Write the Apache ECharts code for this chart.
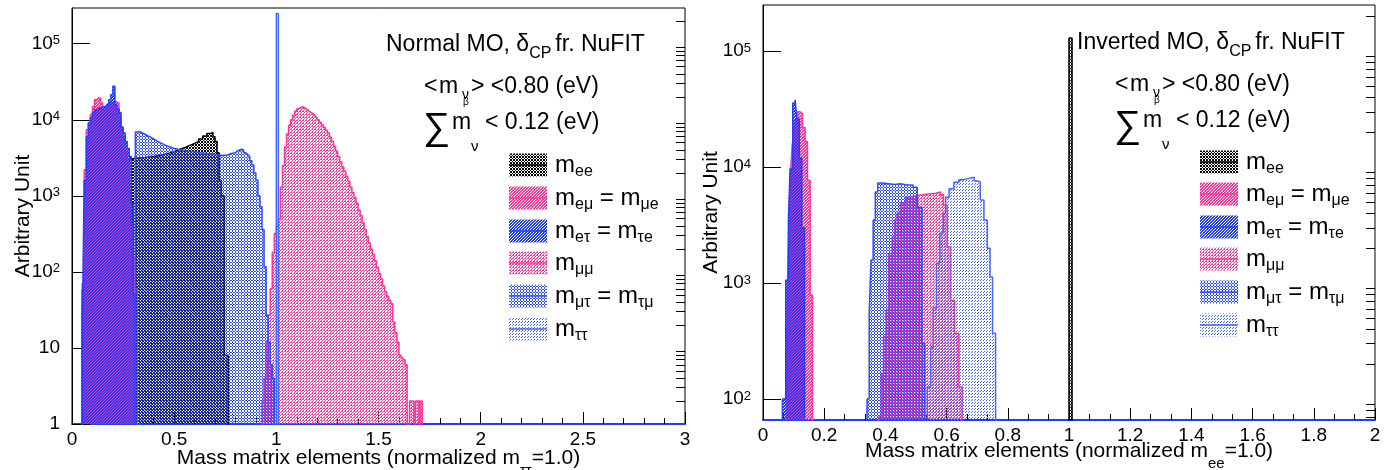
<!DOCTYPE html>
<html><head><meta charset="utf-8">
<script src="https://cdn.jsdelivr.net/npm/echarts@6/dist/echarts.min.js"></script>
<style>html,body{margin:0;padding:0;background:#fff}#c{width:1389px;height:470px}</style>
</head><body><div id="c"></div>
<script>
// ===================== DATA =====================
// Each histogram: [bin left edge, content]; last entry = right edge of last bin (content 0)
// ---- Normal MO (left panel, normalized m_tautau = 1) ----
const NO_ee = [[0.05,58],[0.06,150],[0.07,360],[0.08,700],[0.09,1070],[0.10,1500],[0.11,1800],[0.12,2200],[0.13,2400],[0.14,2600],[0.15,2800],[0.16,2950],[0.17,3050],[0.18,3100],[0.30,3150],[0.32,3200],[0.36,3300],[0.40,3450],[0.44,3600],[0.47,3800],[0.50,4000],[0.52,4200],[0.54,4400],[0.56,4650],[0.58,4900],[0.60,5200],[0.62,5600],[0.64,6100],[0.66,6600],[0.68,6800],[0.69,6000],[0.70,5200],[0.71,3700],[0.72,1600],[0.73,1000],[0.745,8],[0.765,0]];
const NO_em = [[0.05,70],[0.06,2200],[0.07,7400],[0.08,9100],[0.09,11700],[0.10,15000],[0.11,18300],[0.12,19300],[0.13,19300],[0.14,16600],[0.15,14000],[0.16,14000],[0.17,15000],[0.18,16000],[0.19,17000],[0.20,17500],[0.21,17000],[0.22,16600],[0.23,11000],[0.24,8000],[0.25,6000],[0.26,4000],[0.27,3000],[0.28,1200],[0.29,400],[0.30,150],[0.31,60],[0.32,0]];
const NO_et = [[0.05,17],[0.055,150],[0.06,1600],[0.07,6000],[0.08,9100],[0.09,10600],[0.10,12500],[0.11,13500],[0.12,14000],[0.13,14500],[0.14,15000],[0.16,15000],[0.17,16000],[0.18,18300],[0.19,21300],[0.20,27500],[0.21,15800],[0.22,14000],[0.23,12500],[0.24,8000],[0.25,6700],[0.26,5200],[0.27,4200],[0.28,3300],[0.29,800],[0.30,50],[0.31,0]];
const NO_mm = [[0.93,2],[0.94,4],[0.95,12],[0.96,27],[0.97,60],[0.98,180],[0.99,320],[1.00,400],[1.01,500],[1.02,1300],[1.03,2500],[1.04,4400],[1.05,6500],[1.06,8500],[1.07,10000],[1.08,11500],[1.09,13000],[1.10,14000],[1.11,14500],[1.12,14800],[1.13,14300],[1.14,13800],[1.15,13000],[1.16,12500],[1.17,12000],[1.18,11500],[1.19,10800],[1.20,10000],[1.21,9300],[1.22,8600],[1.23,7900],[1.24,7300],[1.25,6700],[1.26,5900],[1.27,5200],[1.28,4500],[1.29,3900],[1.30,3300],[1.31,2800],[1.32,2400],[1.33,2100],[1.34,1800],[1.35,1550],[1.36,1300],[1.37,1100],[1.38,950],[1.39,800],[1.40,650],[1.41,550],[1.42,440],[1.43,360],[1.44,290],[1.45,240],[1.46,200],[1.47,170],[1.48,140],[1.49,115],[1.50,95],[1.51,80],[1.52,65],[1.53,55],[1.54,48],[1.55,42],[1.56,38],[1.57,22],[1.58,16],[1.59,12],[1.60,8],[1.61,7.5],[1.62,7],[1.63,6],[1.64,2],[1.647,0],[1.652,2],[1.673,0],[1.681,2],[1.698,0],[1.703,2],[1.714,0]];
const NO_mt = [[0.31,6900],[0.32,7000],[0.33,6800],[0.34,6600],[0.35,6400],[0.36,6200],[0.37,6000],[0.38,5800],[0.39,5600],[0.40,5400],[0.41,5200],[0.42,5000],[0.43,4900],[0.44,4700],[0.45,4600],[0.46,4500],[0.47,4400],[0.48,4300],[0.49,4200],[0.50,4100],[0.52,4000],[0.54,3900],[0.56,3850],[0.58,3800],[0.60,3700],[0.62,3650],[0.64,3600],[0.66,3550],[0.68,3500],[0.70,3450],[0.72,3400],[0.74,3450],[0.76,3600],[0.78,3700],[0.80,3900],[0.81,4000],[0.82,4100],[0.83,4000],[0.84,3700],[0.85,3500],[0.86,3300],[0.87,2900],[0.88,2550],[0.89,2000],[0.90,1600],[0.91,1000],[0.92,720],[0.93,360],[0.94,117],[0.95,27],[0.96,12],[0.97,6],[0.98,4],[0.99,0]];
const NO_tt = [[1.00,250000],[1.01,0]];
// ---- Inverted MO (right panel, normalized m_ee = 1) ----
const IO_ee = [[1.00,130000],[1.01,0]];
const IO_em = [[0.076,100],[0.08,1000],[0.085,4000],[0.09,9000],[0.095,15000],[0.10,20000],[0.106,26000],[0.1137,30000],[0.1213,29000],[0.129,22000],[0.1377,16600],[0.1453,7700],[0.154,790],[0.1617,0]];
const IO_et = [[0.0634,100],[0.0743,1060],[0.083,3400],[0.0885,9700],[0.0973,35700],[0.105,38000],[0.1104,26000],[0.119,12000],[0.127,3000],[0.136,0]];
const IO_mm = [[0.378,70],[0.386,167],[0.394,345],[0.402,585],[0.411,1800],[0.422,2500],[0.43,3500],[0.438,4000],[0.449,4900],[0.466,5500],[0.48,5700],[0.504,5900],[0.548,5950],[0.565,6100],[0.58,5800],[0.59,4700],[0.602,2050],[0.613,710],[0.626,370],[0.64,127],[0.651,0]];
const IO_mt = [[0.34,100],[0.347,550],[0.353,1580],[0.36,3500],[0.367,6100],[0.375,7300],[0.39,7200],[0.41,7100],[0.43,7200],[0.45,7000],[0.47,7000],[0.49,6700],[0.504,4500],[0.52,300],[0.529,0]];
const IO_tt = [[0.537,127],[0.548,280],[0.556,610],[0.567,1480],[0.578,2700],[0.589,4000],[0.597,5500],[0.608,6500],[0.624,7400],[0.64,7800],[0.656,8000],[0.673,8200],[0.69,7600],[0.70,7500],[0.71,5200],[0.722,3500],[0.733,2000],[0.742,1130],[0.75,370],[0.76,120],[0.766,0]];

const NO_YLABELS = [1,10,100,1000,10000,100000];
const IO_YLABELS = [100,1000,10000,100000];
const LEGEND_LABELS = [
  [['m',0],['ee',1]],
  [['m',0],['eμ',1],[' = m',0],['μe',1]],
  [['m',0],['eτ',1],[' = m',0],['τe',1]],
  [['m',0],['μμ',1]],
  [['m',0],['μτ',1],[' = m',0],['τμ',1]],
  [['m',0],['ττ',1]]
];
const SERIES_NAMES = ['m_ee','m_eμ = m_μe','m_eτ = m_τe','m_μμ','m_μτ = m_τμ','m_ττ'];

// ===================== STYLE =====================
const FONT = '"Liberation Sans", Arial, Helvetica, sans-serif';
const PINK = '#ff3399', BLUE = '#1f3cff', BLUE2 = '#2e4cff', BLUE3 = '#4466ff';
function pattern(color, size, cells) {
  const c = document.createElement('canvas'); c.width = size; c.height = size;
  const g = c.getContext('2d'); g.fillStyle = color;
  cells.forEach(([x, y]) => g.fillRect(x, y, 1, 1));
  return { image: c, repeat: 'repeat' };
}
const STY = [
  { line: '#000', width: 1.5, fill: pattern('#000', 3, [[0,0],[1,0],[0,1],[1,1],[2,2]]) },
  { line: PINK,  width: 1.5, fill: pattern(PINK, 3, [[0,0],[1,0],[0,1],[2,1],[1,2],[2,2]]) },
  { line: BLUE,  width: 1.5, fill: pattern(BLUE, 3, [[1,0],[2,0],[0,1],[1,1],[0,2],[2,2]]) },
  { line: PINK,  width: 1.5, fill: pattern(PINK, 3, [[0,0],[2,0],[1,1],[0,2]]) },
  { line: BLUE2, width: 1.5, fill: pattern(BLUE2, 3, [[1,0],[0,1],[2,1],[1,2]]) },
  { line: BLUE3, width: 1.5, fill: pattern(BLUE3, 3, [[0,0],[2,1]]) }
];

const FLOOR = 1e-3; // empty bins drawn below the log axis minimum (clipped)
function stepData(h) {
  const d = [[h[0][0], FLOOR]];
  h.forEach(([x, v]) => d.push([x, v > 0 ? v : FLOOR]));
  return d;
}
function mkSeries(h, idx, gi) {
  const s = STY[idx];
  return {
    name: SERIES_NAMES[idx], type: 'line', xAxisIndex: gi, yAxisIndex: gi * 2,
    data: stepData(h), step: 'end', symbol: 'none', clip: true, silent: true,
    animation: false, z: 2 + idx, emphasis: { disabled: true },
    lineStyle: { color: s.line, width: s.width },
    areaStyle: { color: s.fill, opacity: 1, origin: 'start' }
  };
}

const minorVals = (lo, hi) => {
  const out = [];
  for (let e = Math.floor(Math.log10(lo)); e <= Math.ceil(Math.log10(hi)); e++)
    for (let k = 2; k <= 9; k++) { const v = k * Math.pow(10, e); if (v >= lo && v <= hi) out.push(v); }
  return out;
};
const supFmt = v => {
  const e = Math.round(Math.log10(v));
  if (e === 0) return '{b|1}';
  if (e === 1) return '{b|10}';
  return '{b|10}{s|' + e + '}';
};
const labRich = {
  b: { fontSize: 19, fontFamily: FONT, color: '#000', lineHeight: 19, verticalAlign: 'bottom' },
  s: { fontSize: 13, fontFamily: FONT, color: '#000', lineHeight: 13, verticalAlign: 'top', padding: [0, 0, 10, 0] }
};
function yAxes(gi, min, max, labels) {
  return [{
    gridIndex: gi, type: 'log', logBase: 10, min, max,
    axisLine: { show: true, lineStyle: { color: '#000', width: 1 } },
    axisTick: { show: true, inside: true, length: 18, customValues: labels, lineStyle: { color: '#000' } },
    axisLabel: { show: true, customValues: labels, formatter: supFmt, rich: labRich, margin: 12, color: '#000' },
    splitLine: { show: false }, minorTick: { show: false },
    name: 'Arbitrary Unit', nameLocation: 'middle', nameRotate: 90, nameGap: gi === 0 ? 38 : 41,
    nameMoveOverlap: false,
    nameTextStyle: { fontSize: 21, fontFamily: FONT, color: '#000' }
  }, {
    gridIndex: gi, type: 'log', logBase: 10, min, max,
    axisLine: { show: false }, axisLabel: { show: false }, splitLine: { show: false },
    axisTick: { show: true, inside: true, length: 9, customValues: minorVals(min, max), lineStyle: { color: '#000' } }
  }];
}
const nameRich = {
  a: { fontSize: 21, fontFamily: FONT, color: '#000', lineHeight: 21, verticalAlign: 'top' },
  s: { fontSize: 15, fontFamily: FONT, color: '#000', lineHeight: 46, verticalAlign: 'middle' }
};
function xAxis(gi, max, interval, split, sub, gap) {
  return {
    gridIndex: gi, type: 'value', min: 0, max, interval,
    axisLine: { show: true, onZero: false, lineStyle: { color: BLUE, width: 2 } },
    axisTick: { show: true, inside: true, length: 12, lineStyle: { color: '#000' } },
    minorTick: { show: true, splitNumber: split, length: 6, lineStyle: { color: '#000' } },
    axisLabel: { fontSize: 19, fontFamily: FONT, color: '#000', margin: 6 },
    splitLine: { show: false },
    name: '{a|Mass matrix elements (normalized m}{s|' + sub + '}{a|=1.0)}',
    nameLocation: 'middle', nameGap: gap, nameMoveOverlap: false,
    nameTextStyle: { fontFamily: FONT, color: '#000', rich: nameRich }
  };
}

// ===================== TEXT / LEGEND =====================
const meas = document.createElement('canvas').getContext('2d');
const tw = (t, size) => { meas.font = size + 'px ' + FONT; return meas.measureText(t).width; };
const T = (x, y, text, size) => ({
  type: 'text', x, y, silent: true, z: 100,
  style: { text, font: size + 'px ' + FONT, fill: '#000', verticalAlign: 'middle', align: 'left' }
});
function header(x0, y0, title) {
  const w1 = tw(title, 23);
  const els = [T(x0, y0, title, 23), T(x0 + w1, y0 + 9, 'CP', 16), T(x0 + w1 + tw('CP', 16) + 4, y0, 'fr. NuFIT', 23)];
  // <m_{nu_beta}> line
  const lx = x0 + 38, ly = y0 + 42;
  els.push(T(lx, ly, '<', 23));
  els.push(T(lx + 15, ly, 'm', 23));
  els.push(T(lx + 38, ly + 8, 'ν', 14));
  els.push(T(lx + 39, ly + 15, 'β', 10));
  els.push(T(lx + 47, ly, '> <0.80 (eV)', 23));
  // sum line
  const sy = y0 + 78;
  els.push(T(lx - 1, sy + 6, '∑', 38));
  els.push(T(lx + 28, sy, 'm', 23));
  els.push(T(lx + 47, sy + 24, 'ν', 15));
  els.push(T(lx + 61, sy, '< 0.12 (eV)', 23));
  return els;
}
function legend(bx, rows) {
  const els = [];
  rows.forEach((cy, i) => {
    els.push({ type: 'rect', silent: true, z: 100, shape: { x: bx, y: cy - 11.5, width: 38, height: 23 },
      style: { fill: STY[i].fill, stroke: null } });
    els.push({ type: 'line', silent: true, z: 101, shape: { x1: bx, y1: cy, x2: bx + 38, y2: cy },
      style: { stroke: STY[i].line, lineWidth: 1.5 } });
    let x = bx + 46;
    LEGEND_LABELS[i].forEach(([t, sub]) => {
      const size = sub ? 16 : 24;
      els.push(T(x, cy + (sub ? 7 : 0), t, size));
      x += tw(t, size);
    });
  });
  return els;
}

const graphics = [].concat(
  header(386, 45, 'Normal MO, δ'),
  header(1077, 43, 'Inverted MO, δ'),
  legend(509, [165, 198, 231, 263, 296, 329]),
  legend(1200, [162, 194, 227, 259, 292, 325])
);

const NO_H = [NO_ee, NO_em, NO_et, NO_mm, NO_mt, NO_tt];
const IO_H = [IO_ee, IO_em, IO_et, IO_mm, IO_mt, IO_tt];

const option = {
  animation: false,
  textStyle: { fontFamily: FONT },
  grid: [
    { left: 72, top: 8, width: 613, height: 416, show: true, borderColor: '#000', borderWidth: 1, backgroundColor: 'transparent', containLabel: false, outerBoundsMode: 'none' },
    { left: 763, top: 5, width: 612, height: 415, show: true, borderColor: '#000', borderWidth: 1, backgroundColor: 'transparent', containLabel: false, outerBoundsMode: 'none' }
  ],
  xAxis: [xAxis(0, 3, 0.5, 5, 'ττ', 24), xAxis(1, 2, 0.2, 3, 'ee', 21)],
  yAxis: [].concat(yAxes(0, 1, 2.95e5, NO_YLABELS), yAxes(1, 66, 2.5e5, IO_YLABELS)),
  series: [].concat(NO_H.map((h, i) => mkSeries(h, i, 0)), IO_H.map((h, i) => mkSeries(h, i, 1))),
  graphic: graphics
};
const chart = echarts.init(document.getElementById('c'), null, { renderer: 'canvas' });
chart.setOption(option);
</script></body></html>
